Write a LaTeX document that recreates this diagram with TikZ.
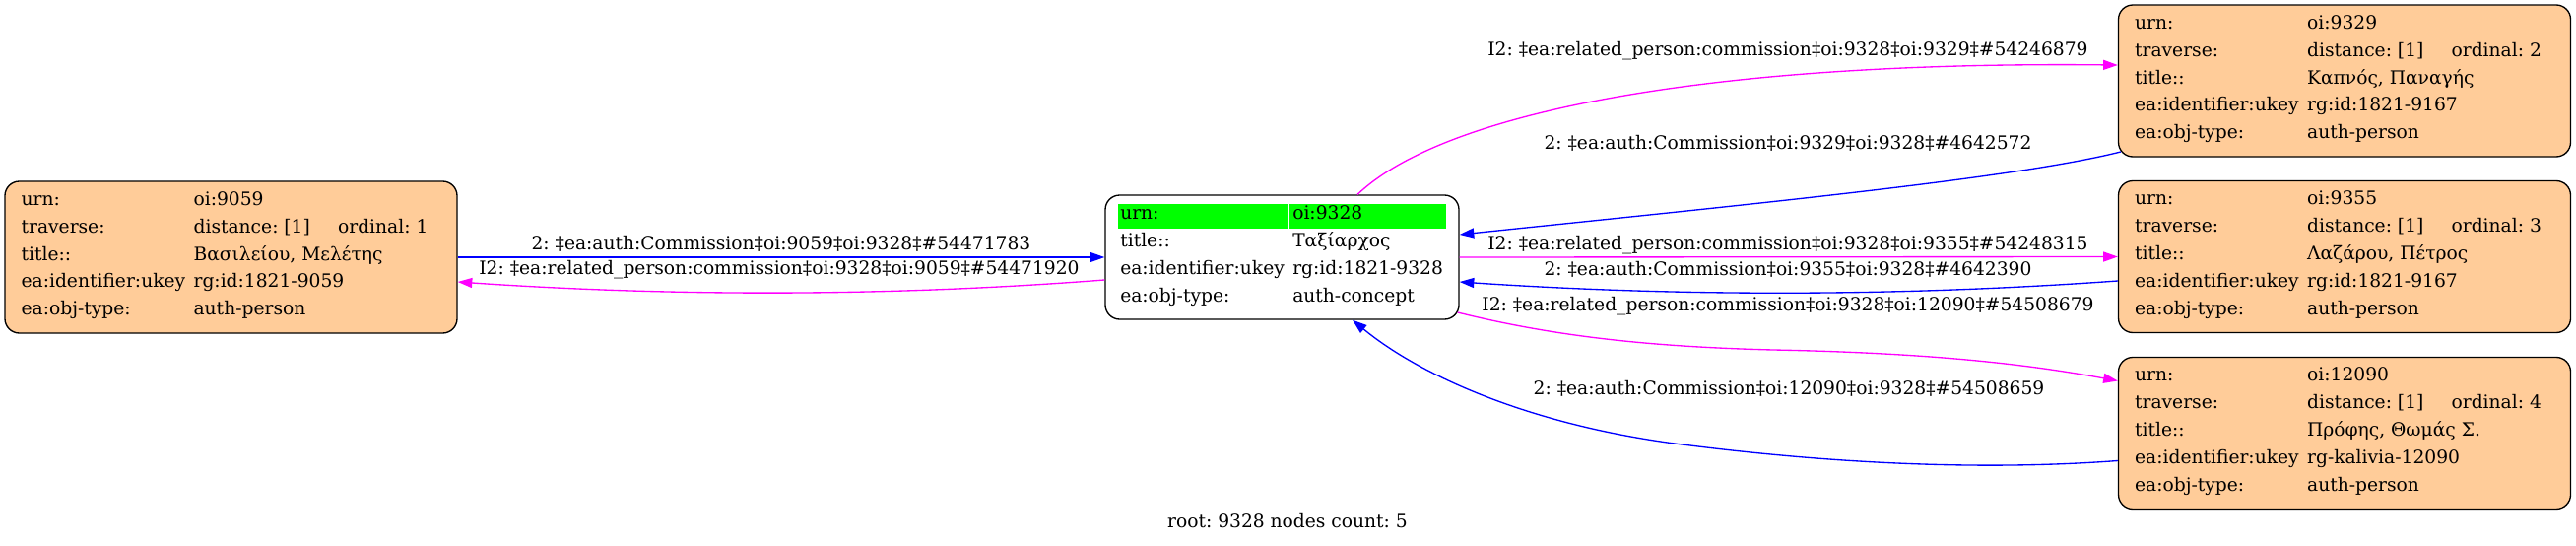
\documentclass[tikz,border=0pt]{standalone}
\usepackage{fontspec}
\setmainfont{DejaVu Serif}
\usetikzlibrary{arrows.meta,calc}
\definecolor{peach}{HTML}{FFCC99}
\definecolor{hlgreen}{HTML}{00FF00}
\definecolor{edgeblue}{HTML}{0000FF}
\definecolor{edgemag}{HTML}{FF00FF}
\newcommand\personrows[6]{%
  \node[cell] (#1k1) at ($(#1.north west)+(17,21.5)$) {urn:};
  \node[cell] (#1v1) at ($(#1.north west)+(192,21.5)$) {#2};
  \node[cell] (#1k2) at ($(#1.north west)+(17,49.4)$) {traverse:};
  \node[cell] (#1v2) at ($(#1.north west)+(192,49.4)$) {distance: [1]};
  \node[cell] (#1o2) at ($(#1.north west)+(338.5,49.4)$) {ordinal: #3};
  \node[cell] (#1k3) at ($(#1.north west)+(17,77.3)$) {title::};
  \node[cell] (#1v3) at ($(#1.north west)+(192,77.3)$) {#4};
  \node[cell] (#1k4) at ($(#1.north west)+(17,105.2)$) {ea:identifier:ukey};
  \node[cell] (#1v4) at ($(#1.north west)+(192,105.2)$) {#5};
  \node[cell] (#1k5) at ($(#1.north west)+(17,133.1)$) {ea:obj-type:};
  \node[cell] (#1v5) at ($(#1.north west)+(192,133.1)$) {#6};
}
\begin{document}
\frenchspacing
\begin{tikzpicture}[x=0.75pt,y=-0.75pt,
  every node/.style={font=\fontsize{14}{16}\selectfont\frenchspacing},
  box/.style={draw=black,line width=1pt,rounded corners=11pt,inner sep=0pt},
  personbox/.style={box,fill=peach,minimum width=344.25pt,minimum height=115.5pt},
  rootbox/.style={box,fill=white,minimum width=269.25pt,minimum height=94.5pt},
  greencell/.style={fill=hlgreen,inner sep=0pt,anchor=north west,minimum height=18.75pt},
  cell/.style={anchor=mid west,inner sep=0pt},
  elabel/.style={anchor=mid,inner sep=0pt},
  arr/.style={line width=1pt,-{Triangle[length=11pt,width=7.5pt]}},
  blueedge/.style={arr,draw=edgeblue},
  magedge/.style={arr,draw=edgemag}]
\useasboundingbox (0,0) rectangle (2615,553);

% boxes
\node[personbox] (pl) at (234.5,261) {};
\node[rootbox] (root) at (1301.5,261) {};
\node[personbox] (pA) at (2380,82) {};
\node[personbox] (pB) at (2380,260.5) {};
\node[personbox] (pC) at (2380,439.5) {};

% root node content
\node[greencell,minimum width=129pt] (g1) at (1135,207) {};
\node[greencell,minimum width=119.25pt] (g2) at (1309,207) {};
\node[cell] (rk1) at (1137,219) {urn:};
\node[cell] (rv1) at (1312,219) {oi:9328};
\node[cell] (rk2) at (1137,247) {title::};
\node[cell] (rv2) at (1312,247) {Ταξίαρχος};
\node[cell] (rk3) at (1137,275) {ea:identifier:ukey};
\node[cell] (rv3) at (1312,275) {rg:id:1821-9328};
\node[cell] (rk4) at (1137,303) {ea:obj-type:};
\node[cell] (rv4) at (1312,303) {auth-concept};

% person nodes content
\personrows{pl}{oi:9059}{1}{Βασιλείου, Μελέτης}{rg:id:1821-9059}{auth-person}
\personrows{pA}{oi:9329}{2}{Καπνός, Παναγής}{rg:id:1821-9167}{auth-person}
\personrows{pB}{oi:9355}{3}{Λαζάρου, Πέτρος}{rg:id:1821-9167}{auth-person}
\personrows{pC}{oi:12090}{4}{Πρόφης, Θωμάς Σ.}{rg-kalivia-12090}{auth-person}

% via points
\coordinate (m1) at (1800,355);
\coordinate (m2) at (1700,450);

% edges
\draw[blueedge] (pl.east) -- (root.west);
\draw[magedge] ($(root.west)+(0,23)$) .. controls (903,301) and (683,301) .. ($(pl.east)+(0,25)$);
\draw[magedge] ($(root.north)+(76.5,0)$) .. controls (1470,110) and (1750,62) .. ($(pA.west)+(0,-16)$);
\draw[blueedge] ($(pA.west)+(3,72)$) .. controls (2050,180) and (1800,205) .. ($(root.east)+(0,-23)$);
\draw[magedge] (root.east) -- (pB.west);
\draw[blueedge] ($(pB.west)+(0,24.5)$) .. controls (1927,301) and (1704,301) .. ($(root.east)+(0,25)$);
\draw[magedge] ($(root.east)+(-2,56)$) .. controls (1580,342) and (1680,352) .. (m1) .. controls (1950,358) and (2050,368) .. ($(pC.west)+(0,-53)$);
\draw[blueedge] ($(pC.west)+(0,28)$) .. controls (2050,475) and (1900,476) .. (m2) .. controls (1550,430) and (1440,380) .. ($(root.south)+(71.5,0)$);

% edge labels
\node[elabel] (e1) at (793,250) {2: ‡ea:auth:Commission‡oi:9059‡oi:9328‡\#54471783};
\node[elabel] (e2) at (791,275) {I2: ‡ea:related\_person:commission‡oi:9328‡oi:9059‡\#54471920};
\node[elabel] (e3) at (1815,53) {I2: ‡ea:related\_person:commission‡oi:9328‡oi:9329‡\#54246879};
\node[elabel] (e4) at (1815,148) {2: ‡ea:auth:Commission‡oi:9329‡oi:9328‡\#4642572};
\node[elabel] (e5) at (1815,250) {I2: ‡ea:related\_person:commission‡oi:9328‡oi:9355‡\#54248315};
\node[elabel] (e6) at (1815,276) {2: ‡ea:auth:Commission‡oi:9355‡oi:9328‡\#4642390};
\node[elabel] (e7) at (1815,312) {I2: ‡ea:related\_person:commission‡oi:9328‡oi:12090‡\#54508679};
\node[elabel] (e8) at (1816,397) {2: ‡ea:auth:Commission‡oi:12090‡oi:9328‡\#54508659};

% footer
\node[elabel] (foot) at (1307,532) {root: 9328 nodes count: 5};
\end{tikzpicture}
\end{document}
